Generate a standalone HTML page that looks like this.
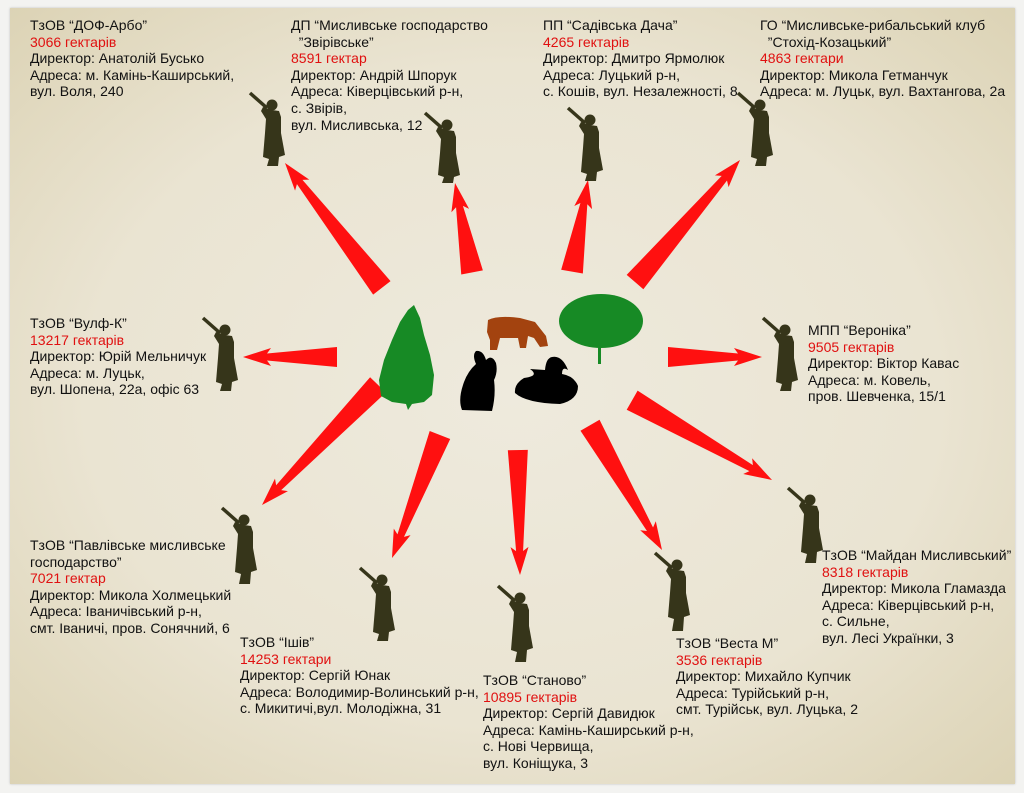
<!DOCTYPE html>
<html><head><meta charset="utf-8"><style>
html,body{margin:0;padding:0;background:#f3f3f1;}
#p{position:relative;width:1024px;height:793px;overflow:hidden;}
#bg{position:absolute;left:10px;top:8px;width:1005px;height:776px;background:radial-gradient(ellipse at 50% 50%,#eeeadd 0%,#eae4d2 60%,#dcd3b5 100%);box-shadow:0 0 2px #bbb;}
.t{position:absolute;font-family:"Liberation Sans",sans-serif;font-size:14px;line-height:16.6px;color:#111;white-space:nowrap;}
.r{color:#e01010;}
svg{position:absolute;left:0;top:0;}
</style></head><body><div id="p"><div id="bg"></div>
<svg width="1024" height="793">
<g fill="#ff1010">
<polygon transform="translate(285,163) rotate(52.2)" points="0,0 28,-9 24,-3.5 158,-11 158,11 24,3.5 28,9"/>
<polygon transform="translate(455,183) rotate(79.2)" points="0,0 28,-9 24,-3.5 91,-11 91,11 24,3.5 28,9"/>
<polygon transform="translate(588,180) rotate(99.9)" points="0,0 28,-9 24,-3.5 93,-11 93,11 24,3.5 28,9"/>
<polygon transform="translate(740,160) rotate(130.7)" points="0,0 28,-9 24,-3.5 161,-11 161,11 24,3.5 28,9"/>
<polygon transform="translate(243,357) rotate(0)" points="0,0 28,-9 24,-3.5 94,-10 94,10 24,3.5 28,9"/>
<polygon transform="translate(762,357) rotate(180)" points="0,0 28,-9 24,-3.5 94,-10 94,10 24,3.5 28,9"/>
<polygon transform="translate(772,480) rotate(209.7)" points="0,0 28,-9 24,-3.5 161,-11 161,11 24,3.5 28,9"/>
<polygon transform="translate(662,550) rotate(240)" points="0,0 28,-9 24,-3.5 144,-11 144,11 24,3.5 28,9"/>
<polygon transform="translate(520,575) rotate(269)" points="0,0 28,-9 24,-3.5 125,-10 125,10 24,3.5 28,9"/>
<polygon transform="translate(392,558) rotate(291.3)" points="0,0 28,-9 24,-3.5 132,-11 132,11 24,3.5 28,9"/>
<polygon transform="translate(262,505) rotate(314)" points="0,0 28,-9 24,-3.5 167,-11 167,11 24,3.5 28,9"/>
</g>
<g fill="#36351a" stroke="none">
<g transform="translate(250,93)"><line x1="0" y1="0" x2="17" y2="15" stroke="#36351a" stroke-width="3.5"/><circle cx="22" cy="12" r="5.5"/><path d="M13,14 L22,17 L29,18 L31,24 L31,40 L35,62 L29,64 L28,73 L17,73 L19,66 L13,64 L15,40 L16,26 L11,18 Z"/></g>
<g transform="translate(425,113)"><line x1="0" y1="0" x2="17" y2="15" stroke="#36351a" stroke-width="3.5"/><circle cx="22" cy="12" r="5.5"/><path d="M13,14 L22,17 L29,18 L31,24 L31,40 L35,62 L29,64 L28,70 L17,70 L19,64 L13,62 L15,40 L16,26 L11,18 Z"/></g>
<g transform="translate(568,108)"><line x1="0" y1="0" x2="17" y2="15" stroke="#36351a" stroke-width="3.5"/><circle cx="22" cy="12" r="5.5"/><path d="M13,14 L22,17 L29,18 L31,24 L31,40 L35,62 L29,64 L28,73 L17,73 L19,66 L13,64 L15,40 L16,26 L11,18 Z"/></g>
<g transform="translate(738,93)"><line x1="0" y1="0" x2="17" y2="15" stroke="#36351a" stroke-width="3.5"/><circle cx="22" cy="12" r="5.5"/><path d="M13,14 L22,17 L29,18 L31,24 L31,40 L35,62 L29,64 L28,73 L17,73 L19,66 L13,64 L15,40 L16,26 L11,18 Z"/></g>
<g transform="translate(203,318)"><line x1="0" y1="0" x2="17" y2="15" stroke="#36351a" stroke-width="3.5"/><circle cx="22" cy="12" r="5.5"/><path d="M13,14 L22,17 L29,18 L31,24 L31,40 L35,62 L29,64 L28,73 L17,73 L19,66 L13,64 L15,40 L16,26 L11,18 Z"/></g>
<g transform="translate(763,318)"><line x1="0" y1="0" x2="17" y2="15" stroke="#36351a" stroke-width="3.5"/><circle cx="22" cy="12" r="5.5"/><path d="M13,14 L22,17 L29,18 L31,24 L31,40 L35,62 L29,64 L28,73 L17,73 L19,66 L13,64 L15,40 L16,26 L11,18 Z"/></g>
<g transform="translate(788,488)"><line x1="0" y1="0" x2="17" y2="15" stroke="#36351a" stroke-width="3.5"/><circle cx="22" cy="12" r="5.5"/><path d="M13,14 L22,17 L29,18 L31,24 L31,40 L35,62 L29,64 L28,75 L17,75 L19,66 L13,64 L15,40 L16,26 L11,18 Z"/></g>
<g transform="translate(655,553)"><line x1="0" y1="0" x2="17" y2="15" stroke="#36351a" stroke-width="3.5"/><circle cx="22" cy="12" r="5.5"/><path d="M13,14 L22,17 L29,18 L31,24 L31,40 L35,62 L29,64 L28,78 L17,78 L19,66 L13,64 L15,40 L16,26 L11,18 Z"/></g>
<g transform="translate(498,586)"><line x1="0" y1="0" x2="17" y2="15" stroke="#36351a" stroke-width="3.5"/><circle cx="22" cy="12" r="5.5"/><path d="M13,14 L22,17 L29,18 L31,24 L31,40 L35,62 L29,64 L28,76 L17,76 L19,66 L13,64 L15,40 L16,26 L11,18 Z"/></g>
<g transform="translate(360,568)"><line x1="0" y1="0" x2="17" y2="15" stroke="#36351a" stroke-width="3.5"/><circle cx="22" cy="12" r="5.5"/><path d="M13,14 L22,17 L29,18 L31,24 L31,40 L35,62 L29,64 L28,73 L17,73 L19,66 L13,64 L15,40 L16,26 L11,18 Z"/></g>
<g transform="translate(222,508)"><line x1="0" y1="0" x2="17" y2="15" stroke="#36351a" stroke-width="3.5"/><circle cx="22" cy="12" r="5.5"/><path d="M13,14 L22,17 L29,18 L31,24 L31,40 L35,62 L29,64 L28,76 L17,76 L19,66 L13,64 L15,40 L16,26 L11,18 Z"/></g>
</g>
<path fill="#178a25" d="M414,305 L420,318 L424,335 L430,355 L434,375 L432,395 L424,402 L412,404 L408,410 L406,404 L392,402 L381,396 L379,380 L384,360 L392,340 L400,322 L408,310 Z"/>
<ellipse cx="601" cy="321" rx="42" ry="27" fill="#178a25"/>
<rect x="598" y="340" width="3" height="24" fill="#178a25"/>
<path fill="#a3430f" d="M488,320 Q498,315 520,318 L535,322 L546,336 L548,346 L540,347 L534,338 L528,336 L526,348 L520,348 L518,338 L500,338 L497,350 L490,350 L490,340 L487,332 Z"/>
<path fill="#000" d="M476,351 Q472,355 476,364 Q467,372 463,385 Q458,400 462,410 L492,411 Q496,395 494,380 Q498,372 496,363 Q492,354 486,360 Q483,350 476,351 Z"/>
<path fill="#000" d="M552,357 Q546,358 545,370 L530,369 Q540,376 524,378 Q514,384 515,393 Q526,403 560,404 Q578,400 578,386 Q574,376 562,374 Q562,366 568,370 Q562,355 552,357 Z"/>
</svg>
<div class="t" style="left:30px;top:17px">ТзОВ “ДОФ-Арбо”<br><span class="r">3066 гектарів</span><br>Директор: Анатолій Бусько<br>Адреса: м. Камінь-Каширський,<br>вул. Воля, 240</div>
<div class="t" style="left:291px;top:17px">ДП “Мисливське господарство<br>&nbsp;&nbsp;”Звірівське”<br><span class="r">8591 гектар</span><br>Директор: Андрій Шпорук<br>Адреса: Ківерцівський р-н,<br>с. Звірів,<br>вул. Мисливська, 12</div>
<div class="t" style="left:543px;top:17px">ПП “Садівська Дача”<br><span class="r">4265 гектарів</span><br>Директор: Дмитро Ярмолюк<br>Адреса: Луцький р-н,<br>с. Кошів, вул. Незалежності, 8</div>
<div class="t" style="left:760px;top:17px">ГО “Мисливське-рибальський клуб<br>&nbsp;&nbsp;”Стохід-Козацький”<br><span class="r">4863 гектари</span><br>Директор: Микола Гетманчук<br>Адреса: м. Луцьк, вул. Вахтангова, 2а</div>
<div class="t" style="left:30px;top:315px">ТзОВ “Вулф-К”<br><span class="r">13217 гектарів</span><br>Директор: Юрій Мельничук<br>Адреса: м. Луцьк,<br>вул. Шопена, 22а, офіс 63</div>
<div class="t" style="left:808px;top:322px">МПП “Вероніка”<br><span class="r">9505 гектарів</span><br>Директор: Віктор Кавас<br>Адреса: м. Ковель,<br>пров. Шевченка, 15/1</div>
<div class="t" style="left:30px;top:537px">ТзОВ “Павлівське мисливське<br>господарство”<br><span class="r">7021 гектар</span><br>Директор: Микола Холмецький<br>Адреса: Іваничівський р-н,<br>смт. Іваничі, пров. Сонячний, 6</div>
<div class="t" style="left:240px;top:634px">ТзОВ “Ішів”<br><span class="r">14253 гектари</span><br>Директор: Сергій Юнак<br>Адреса: Володимир-Волинський р-н,<br>с. Микитичі,вул. Молодіжна, 31</div>
<div class="t" style="left:483px;top:672px">ТзОВ “Станово”<br><span class="r">10895 гектарів</span><br>Директор: Сергій Давидюк<br>Адреса: Камінь-Каширський р-н,<br>с. Нові Червища,<br>вул. Коніщука, 3</div>
<div class="t" style="left:676px;top:635px">ТзОВ “Веста М”<br><span class="r">3536 гектарів</span><br>Директор: Михайло Купчик<br>Адреса: Турійський р-н,<br>смт. Турійськ, вул. Луцька, 2</div>
<div class="t" style="left:822px;top:547px">ТзОВ “Майдан Мисливський”<br><span class="r">8318 гектарів</span><br>Директор: Микола Гламазда<br>Адреса: Ківерцівський р-н,<br>с. Сильне,<br>вул. Лесі Українки, 3</div>
</div></body></html>
